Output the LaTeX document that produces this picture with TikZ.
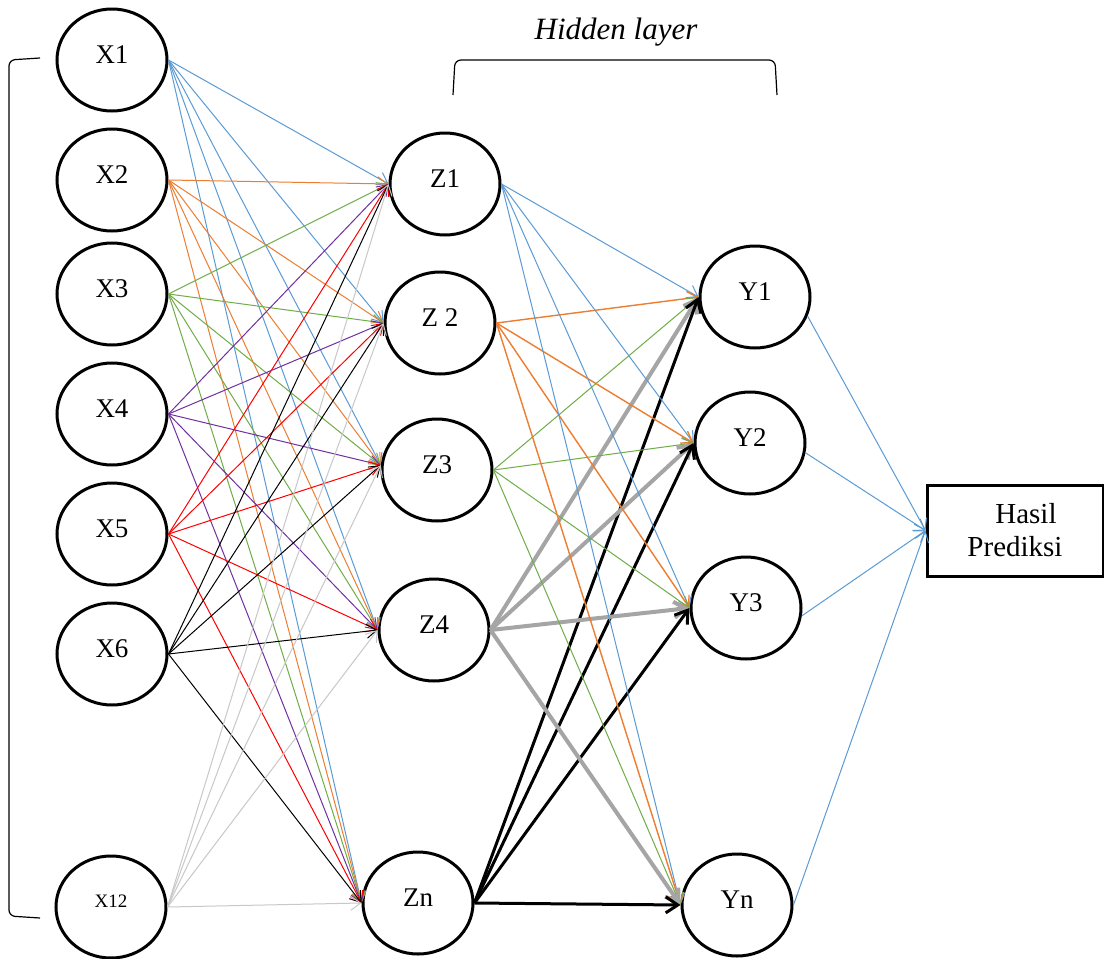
\documentclass[tikz,border=0pt]{standalone}
\usepackage{fontspec}
\setmainfont{Liberation Serif}
\usetikzlibrary{shapes.geometric,arrows.meta}
\definecolor{cblue}{HTML}{5B9BD5}
\definecolor{corange}{HTML}{ED7D31}
\definecolor{cgreen}{HTML}{70AD47}
\definecolor{cpurple}{HTML}{7030A0}
\definecolor{cred}{HTML}{FF0000}
\definecolor{clgray}{HTML}{C8C8C8}
\definecolor{cgray}{HTML}{A5A5A5}
\tikzset{
  neuron/.style={ellipse, draw=black, line width=1.5pt, fill=white, minimum width=55pt, minimum height=51pt, inner sep=0pt, text depth=5pt, font=\fontsize{13.5}{16}\selectfont},
  xz/.style={line width=0.5pt, -{Straight Barb[length=5pt,width=7pt]}},
  zyorange/.style={line width=0.7pt, -{Straight Barb[length=5pt,width=7pt]}},
  zythick/.style={line width=2pt, -{Straight Barb[length=6pt,width=8pt,line width=2pt]}},
  zyblack/.style={line width=1.5pt, -{Straight Barb[length=6pt,width=8pt,line width=1.5pt]}},
  outbox/.style={rectangle, draw=black, line width=1.5pt, minimum width=88pt, minimum height=45.5pt, align=center, font=\fontsize{14.5}{16.5}\selectfont, inner sep=0pt},
  brace/.style={line width=0.6pt, rounded corners=3pt}
}
\begin{document}
\begin{tikzpicture}[x=0.5pt,y=-0.5pt]
\useasboundingbox[fill=white] (0,0) rectangle (1104,959);
% brackets
\draw[brace] (40,58) -- (9,60) -- (9,916) -- (40,918);
\draw[brace] (453,95) -- (455,60) -- (775,60) -- (777,95);
\node[font=\fontsize{15.5}{18}\selectfont\itshape] (hl) at (616,32) {Hidden layer};
% input nodes
\node[neuron] (X1) at (112,60) {X1};
\node[neuron] (X2) at (112,180) {X2};
\node[neuron] (X3) at (112,294) {X3};
\node[neuron] (X4) at (112,414) {X4};
\node[neuron] (X5) at (112,534) {X5};
\node[neuron] (X6) at (112,654) {X6};
\node[neuron, font=\fontsize{9.5}{11}\selectfont, text depth=6pt] (X12) at (111,907) {X12};
% hidden nodes
\node[neuron] (Z1) at (445,184) {Z1};
\node[neuron] (Z2) at (440,323) {Z 2};
\node[neuron] (Z3) at (437,470) {Z3};
\node[neuron] (Z4) at (434,630) {Z4};
\node[neuron] (Zn) at (418,903) {Zn};
% output nodes
\node[neuron] (Y1) at (755,297) {Y1};
\node[neuron] (Y2) at (750,443) {Y2};
\node[neuron] (Y3) at (746,608) {Y3};
\node[neuron] (Yn) at (737,905) {Yn};
\node[outbox] (hasil) at (1015,530.5) {\hspace*{11pt}Hasil\\Prediksi};
% input -> hidden
\foreach \s/\c in {X1/cblue,X2/corange,X3/cgreen,X4/cpurple,X5/cred,X6/black,X12/clgray}{
  \foreach \t/\a in {Z1/west,Z2/west,Z3/175,Z4/west,Zn/west}{
    \draw[xz,\c] (\s.east) -- (\t.\a);
  }
}
% hidden -> output
\foreach \t in {Y1,Y2,Y3,Yn}{
  \draw[xz,cblue] (Z1.east) -- (\t.west);
  \draw[zyorange,corange] (Z2.east) -- (\t.west);
  \draw[xz,cgreen] (Z3.east) -- (\t.west);
  \draw[zythick,cgray] (Z4.east) -- (\t.west);
  \draw[zyblack,black] (Zn.east) -- (\t.west);
}
% output -> result
\draw[xz,cblue] (Y1.-20) -- (hasil.west);
\draw[xz,cblue] (Y2.-10) -- (hasil.west);
\draw[xz,cblue] (Y3.-8) -- (hasil.west);
\draw[xz,cblue] (Yn.east) -- (hasil.west);
\end{tikzpicture}
\end{document}
